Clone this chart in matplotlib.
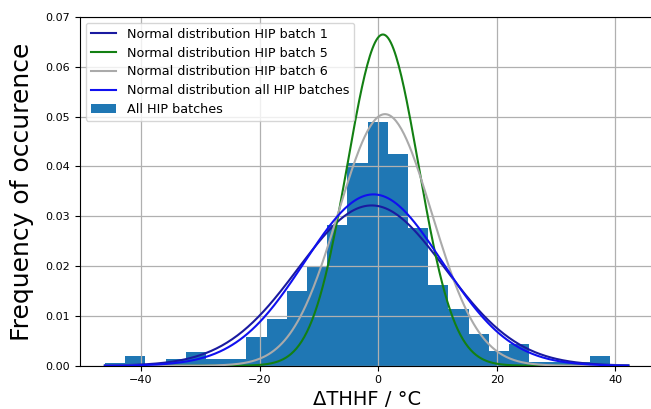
import numpy as np
import matplotlib
matplotlib.use("Agg")
import matplotlib.pyplot as plt

# Histogram (density)
bin_start = -46.1
bin_stop = 39.1
hist_heights = [0.0006, 0.0020, 0.0, 0.0013, 0.0027, 0.0013, 0.0013, 0.0057,
                0.0094, 0.0149, 0.0199, 0.0283, 0.0406, 0.0489, 0.0425, 0.0276,
                0.0162, 0.0114, 0.0064, 0.0029, 0.0043, 0.0007, 0.0007, 0.0007,
                0.0020]

# Normal distributions (mean, sigma)
labels = ["Normal distribution HIP batch 1",
          "Normal distribution HIP batch 5",
          "Normal distribution HIP batch 6",
          "Normal distribution all HIP batches"]
means = [-1.1, 0.8, 1.15, -0.8]
sigmas = [12.4, 6.0, 7.9, 11.6]
colors = ["#1a1aa0", "#138013", "#aaaaaa", "#1010f0"]
curve_range = (-46.1, 42.2)

fig = plt.figure(figsize=(6.51, 4.09), dpi=100)
ax = fig.add_axes([80/651, 1 - 365.7/409, (654.4 - 80)/651, (365.7 - 17)/409])

edges = np.linspace(bin_start, bin_stop, len(hist_heights) + 1)
ax.bar(edges[:-1], hist_heights, width=np.diff(edges), align="edge",
       color="#1f77b4", label="All HIP batches", zorder=1)

x = np.linspace(curve_range[0], curve_range[1], 400)
for lab, m, s, c in zip(labels, means, sigmas, colors):
    y = np.exp(-0.5 * ((x - m) / s) ** 2) / (s * np.sqrt(2 * np.pi))
    ax.plot(x, y, color=c, lw=1.5, label=lab, zorder=3)

ax.set_xlim(-50.3, 46.6)
ax.set_ylim(0, 0.07)
ax.grid(True, color="#b0b0b0", lw=0.9)
ax.tick_params(labelsize=8)
ax.set_xlabel("ΔTHHF / °C", fontsize=14, labelpad=3)
ax.set_ylabel("Frequency of occurence", fontsize=18, labelpad=8)
ax.legend(loc="upper left", fontsize=9.2, handlelength=2.0,
          borderaxespad=0.45, labelspacing=0.45)

fig.savefig("out.png", dpi=100)
